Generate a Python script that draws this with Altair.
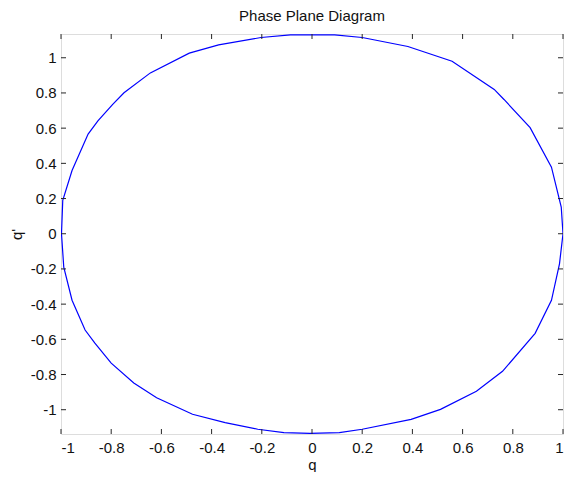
import altair as alt
import pandas as pd

# Trajectory (q, q')
q_vals = [1.000, 0.986, 0.954, 0.889, 0.759, 0.655, 0.512, 0.395, 0.200, 0.109,
          -0.008, -0.112, -0.216, -0.346, -0.476, -0.619, -0.710, -0.800, -0.865, -0.904,
          -0.956, -0.989, -0.998, -0.993, -0.956, -0.892, -0.853, -0.794, -0.749, -0.644,
          -0.489, -0.372, -0.203, -0.086, 0.090, 0.200, 0.382, 0.558, 0.726, 0.765,
          0.869, 0.954, 0.993, 1.000]
qd_vals = [0.000, -0.171, -0.378, -0.566, -0.782, -0.895, -0.998, -1.055, -1.111, -1.130,
           -1.134, -1.130, -1.111, -1.073, -1.026, -0.932, -0.848, -0.735, -0.622, -0.547,
           -0.378, -0.190, 0.000, 0.190, 0.359, 0.566, 0.641, 0.735, 0.801, 0.914,
           1.026, 1.073, 1.115, 1.130, 1.130, 1.115, 1.064, 0.980, 0.820, 0.763,
           0.603, 0.378, 0.152, 0.000]

x_ticks = [-1, -0.8, -0.6, -0.4, -0.2, 0, 0.2, 0.4, 0.6, 0.8, 1]
y_ticks = [-1, -0.8, -0.6, -0.4, -0.2, 0, 0.2, 0.4, 0.6, 0.8, 1]

x_domain = [-1, 1]
y_domain = [-1.138, 1.135]

W, H = 502, 400
TICK = 5
AXIS_COLOR = "#262626"
FONT = "Liberation Sans"

df = pd.DataFrame({"q": q_vals, "qd": qd_vals, "i": list(range(len(q_vals)))})
xt = pd.DataFrame({"t": x_ticks})
yt = pd.DataFrame({"t": y_ticks})

label_expr = "'' + round(datum.value * 10) / 10"

xscale = alt.Scale(domain=x_domain, nice=False, zero=False)
yscale = alt.Scale(domain=y_domain, nice=False, zero=False)

line = alt.Chart(df).mark_line(color="#0000ff", strokeWidth=1.2, clip=True).encode(
    x=alt.X("q:Q", scale=xscale, title="q",
            axis=alt.Axis(values=x_ticks, tickCount=30, labelExpr=label_expr, tickSize=0,
                          domain=False, grid=False, labelPadding=6, labelOverlap=False,
                          titleY=35, titleBaseline="alphabetic",
                          labelFontSize=15, titleFontSize=15, titleFontWeight="normal",
                          labelColor="#111111", titleColor="#111111",
                          labelFont=FONT, titleFont=FONT)),
    y=alt.Y("qd:Q", scale=yscale, title="q'",
            axis=alt.Axis(values=y_ticks, tickCount=30, labelExpr=label_expr, tickSize=0,
                          domain=False, grid=False, labelPadding=5, labelOverlap=False,
                          titleX=-45, titleBaseline="middle",
                          labelFontSize=15, titleFontSize=15, titleFontWeight="normal",
                          labelColor="#111111", titleColor="#111111",
                          labelFont=FONT, titleFont=FONT)),
    order="i:Q",
)

top_ticks = alt.Chart(xt).mark_rule(color=AXIS_COLOR, strokeWidth=1).encode(
    x=alt.X("t:Q", scale=xscale), y=alt.value(0), y2=alt.value(TICK))
bot_ticks = alt.Chart(xt).mark_rule(color=AXIS_COLOR, strokeWidth=1).encode(
    x=alt.X("t:Q", scale=xscale), y=alt.value(H), y2=alt.value(H - TICK))
left_ticks = alt.Chart(yt).mark_rule(color=AXIS_COLOR, strokeWidth=1).encode(
    y=alt.Y("t:Q", scale=yscale), x=alt.value(0), x2=alt.value(TICK))
right_ticks = alt.Chart(yt).mark_rule(color=AXIS_COLOR, strokeWidth=1).encode(
    y=alt.Y("t:Q", scale=yscale), x=alt.value(W), x2=alt.value(W - TICK))

chart = alt.layer(line, top_ticks, bot_ticks, left_ticks, right_ticks).properties(
    width=W, height=H,
    title=alt.TitleParams("Phase Plane Diagram", fontSize=15, fontWeight="normal",
                          font=FONT, color="#111111", offset=10),
    autosize=alt.AutoSizeParams(type="none"),
    padding={"left": 53, "top": 26, "right": 4, "bottom": 38},
).configure_view(stroke=AXIS_COLOR, strokeWidth=1).configure(background="white")

chart.save("out.html", embed_options={"renderer": "svg", "actions": False})
